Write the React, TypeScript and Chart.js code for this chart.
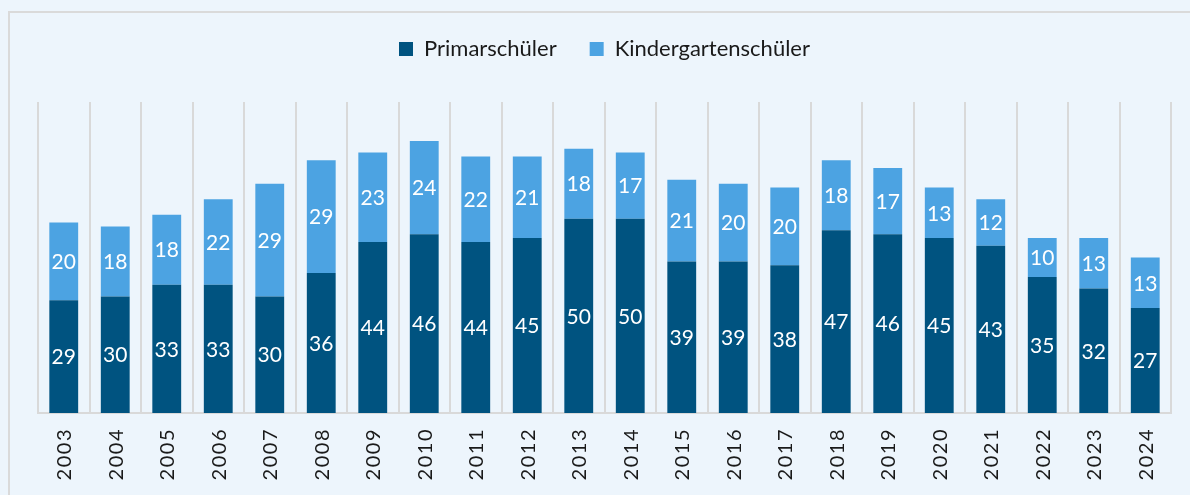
import React, { useEffect, useRef } from "react";
import { Chart, registerables } from "chart.js";

Chart.register(...registerables);

const years = ["2003","2004","2005","2006","2007","2008","2009","2010","2011","2012","2013","2014","2015","2016","2017","2018","2019","2020","2021","2022","2023","2024"];
const primar = [29,30,33,33,30,36,44,46,44,45,50,50,39,39,38,47,46,45,43,35,32,27];
const kinder = [20,18,18,22,29,29,23,24,22,21,18,17,21,20,20,18,17,13,12,10,13,13];

const DARK = "#005380";
const LIGHT = "#4CA3E2";
const BG = "#EDF5FC";
const FONT = "Lato, 'Noto Sans', sans-serif";

const segLabels = {
  id: "segLabels",
  afterDatasetsDraw(chart: any) {
    const ctx = chart.ctx;
    ctx.save();
    ctx.fillStyle = "#ffffff";
    ctx.font = `21px ${FONT}`;
    ctx.textAlign = "center";
    ctx.textBaseline = "middle";
    chart.data.datasets.forEach((ds: any, di: number) => {
      const meta = chart.getDatasetMeta(di);
      meta.data.forEach((bar: any, i: number) => {
        const { x, y, base } = bar.getProps(["x", "y", "base"], true);
        ctx.fillText(String(ds.data[i]), x, (y + base) / 2 + 1);
      });
    });
    ctx.restore();
  },
};

const xLabels = {
  id: "xLabels",
  afterDraw(chart: any) {
    const ctx = chart.ctx;
    const xs = chart.scales.x;
    ctx.save();
    ctx.fillStyle = "#1a1a1a";
    ctx.font = `20px ${FONT}`;
    try { (ctx as any).letterSpacing = "1.5px"; } catch (e) {}
    ctx.textAlign = "right";
    ctx.textBaseline = "middle";
    (chart.data.labels as string[]).forEach((lab, i) => {
      const x = xs.getPixelForTick(i);
      ctx.save();
      ctx.translate(x + 1, xs.top + 15);
      ctx.rotate(-Math.PI / 2);
      ctx.fillText(lab, 0, 0);
      ctx.restore();
    });
    ctx.restore();
  },
};

const legendMargin = {
  id: "legendMargin",
  beforeUpdate(chart: any) {
    const lg = chart.legend;
    if (lg && !lg._patched) {
      const orig = lg.fit;
      lg.fit = function () {
        orig.call(this);
        this.height += 32;
      };
      lg._patched = true;
    }
  },
};

export default function App() {
  const ref = useRef<HTMLCanvasElement>(null);
  useEffect(() => {
    document.body.style.background = BG;
    document.body.style.overflow = "hidden";
    const chart = new Chart(ref.current!, {
      type: "bar",
      data: {
        labels: years,
        datasets: [
          { label: "Primarschüler", data: primar, backgroundColor: DARK, borderWidth: 0, categoryPercentage: 1, barPercentage: 0.56 },
          { label: "Kindergartenschüler", data: kinder, backgroundColor: LIGHT, borderWidth: 0, categoryPercentage: 1, barPercentage: 0.56 },
        ],
      },
      options: {
        animation: false,
        responsive: false,
        layout: { padding: { left: 38, right: 19, top: 5, bottom: 0 } },
        plugins: {
          legend: {
            position: "top",
            labels: { boxWidth: 14, boxHeight: 14, padding: 33, color: "#1a1a1a", font: { family: FONT, size: 22 } },
          },
          tooltip: { enabled: false },
        },
        scales: {
          x: {
            stacked: true,
            grid: { color: "#D9D9D9", lineWidth: 2, drawTicks: false, offset: true },
            border: { color: "#D9D9D9", width: 2 },
            ticks: { display: false },
            afterFit: (scale: any) => { scale.height = 82; },
          },
          y: { stacked: true, display: false, min: 0, max: 80 },
        },
      },
      plugins: [legendMargin, segLabels, xLabels],
    });
    return () => chart.destroy();
  }, []);
  return (
    <div>
      <div style={{ position: "absolute", left: 8, top: 11, width: 1300, height: 600, borderTop: "2px solid #DADADA", borderLeft: "2px solid #DADADA" }} />
      <canvas ref={ref} width={1190} height={495} style={{ position: "absolute", left: 0, top: 0, display: "block" }} />
    </div>
  );
}
